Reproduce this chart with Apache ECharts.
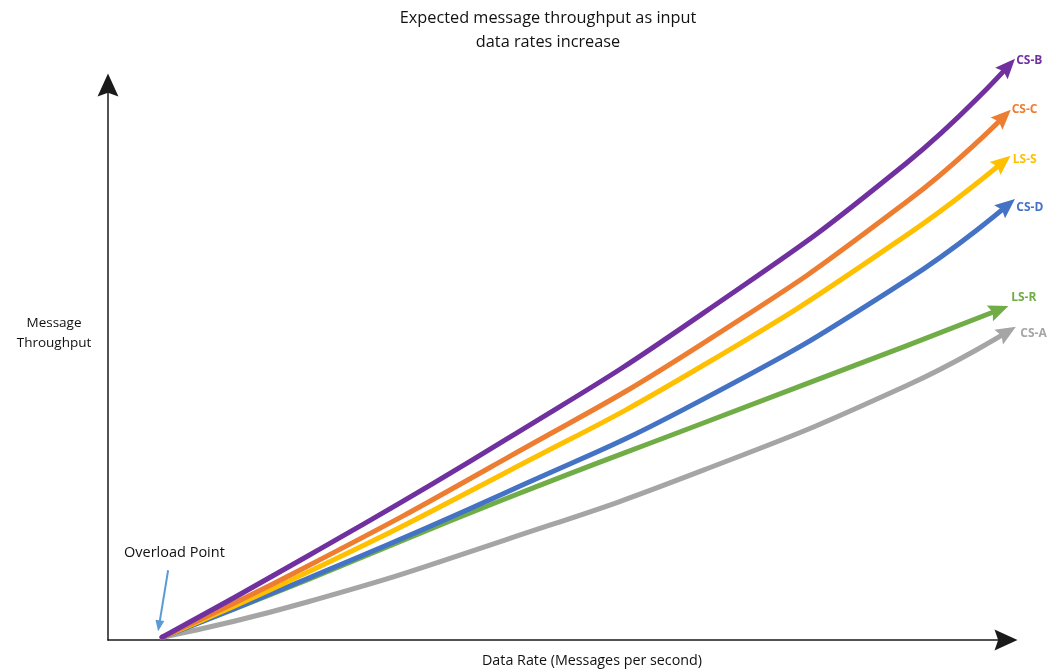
<!DOCTYPE html>
<html>
<head>
<meta charset="utf-8">
<title>Expected message throughput</title>
<script src="https://cdn.jsdelivr.net/npm/echarts@6/dist/echarts.min.js"></script>
<style>
  html, body { margin: 0; padding: 0; background: #fff; }
  #chart { width: 1051px; height: 671px; }
</style>
</head>
<body>
<div id="chart"></div>
<script>
// Data rate (x) vs. message throughput (y), both in relative units 0..100.
// Every curve begins at the overload point.
const overloadPoint = [6, 0.5];
const csA = [overloadPoint, [22, 6.8], [44, 18.0], [66, 30.6], [88.5, 45.8], [99.7, 55.5]];
const lsR = [overloadPoint, [22, 10.8], [44, 25.4], [66, 39.1], [88.5, 53.0], [98.8, 59.5]];
const csD = [overloadPoint, [22, 11.0], [44, 26.5], [66, 43.4], [88.5, 64.8], [99.7, 78.3]];
const lsS = [overloadPoint, [22, 12.1], [44, 30.1], [66, 49.5], [88.5, 72.9], [99.2, 86.1]];
const csC = [overloadPoint, [22, 13.2], [44, 32.6], [66, 53.5], [88.5, 78.9], [99.3, 94.3]];
const csB = [overloadPoint, [22, 15.0], [44, 36.0], [66, 58.9], [88.5, 85.9], [99.8, 103.4]];

const seriesNames = ['CS-A', 'LS-R', 'CS-D', 'LS-S', 'CS-C', 'CS-B'];
const seriesPoints = [csA, lsR, csD, lsS, csC, csB];

const titleText = 'Expected message throughput as input\ndata rates increase';
const xAxisName = 'Data Rate (Messages per second)';
const yAxisName = 'Message\nThroughput';
const annotationText = 'Overload Point';

// Styling
const colors = ['#A5A5A5', '#70AD47', '#4472C4', '#FFC000', '#ED7D31', '#7030A0'];
const labelGap = [13, 12, 9, 10, 8, 8];       // px right of the curve end
const labelShift = [2, -12, 2, -3, -7, -6];   // px below (+) / above (-) the curve end
const ARROW = 'path://M10,0 L20,22 L10,18.5 L0,22 Z';
const FONT = '"Open Sans", "Noto Sans", sans-serif';

const chart = echarts.init(document.getElementById('chart'), null, { renderer: 'canvas' });

function axisBase(offset) {
  return {
    type: 'value', min: 0, max: 100,
    axisLine: {
      show: true,
      symbol: ['none', ARROW],
      symbolSize: [24, 23],
      symbolOffset: [0, offset],
      lineStyle: { color: '#1a1a1a', width: 1.5 }
    },
    axisTick: { show: false },
    axisLabel: { show: false },
    splitLine: { show: false }
  };
}

function buildSeries(rotations) {
  return seriesPoints.map((pts, i) => {
    const last = pts.length - 1;
    return {
      type: 'line',
      name: seriesNames[i],
      smooth: 0.5,
      clip: false,
      silent: true,
      animation: false,
      symbol: 'none',
      showSymbol: true,
      lineStyle: { color: colors[i], width: 5, cap: 'round', join: 'round' },
      itemStyle: { color: colors[i] },
      emphasis: { disabled: true },
      data: pts.map((p, k) => k === last
        ? { value: p, symbol: ARROW, symbolSize: [17, 20],
            symbolRotate: rotations ? rotations[i] : 0,
            itemStyle: { color: colors[i] } }
        : { value: p })
    };
  });
}

function buildOption(rotations, graphics) {
  return {
    backgroundColor: '#ffffff',
    animation: false,
    grid: { left: 108, right: 41, top: 85, bottom: 31, containLabel: false },
    xAxis: axisBase(-4),
    yAxis: axisBase(0),
    series: buildSeries(rotations),
    graphic: graphics || []
  };
}

chart.setOption(buildOption(null));

const toPx = p => chart.convertToPixel({ gridIndex: 0 }, p);

// Arrowhead direction: tangent at the end of each curve, estimated from its last two chords.
const rotations = seriesPoints.map(pts => {
  const n = pts.length;
  const a = toPx(pts[n - 3]), b = toPx(pts[n - 2]), c = toPx(pts[n - 1]);
  const t0 = Math.atan2(a[1] - b[1], b[0] - a[0]);
  const t1 = Math.atan2(b[1] - c[1], c[0] - b[0]);
  const tEnd = t1 + (t1 - t0) / 2;
  return tEnd * 180 / Math.PI - 90;
});

// Series names placed next to each curve's end
const endLabels = seriesPoints.map((pts, i) => {
  const end = toPx(pts[pts.length - 1]);
  return {
    type: 'text', silent: true, z: 10,
    x: end[0] + labelGap[i], y: end[1] + labelShift[i],
    style: { text: seriesNames[i], font: 'bold 12px ' + FONT, fill: colors[i],
             align: 'left', verticalAlign: 'middle' }
  };
});

// Annotation arrow aimed at the overload point
const op = toPx(overloadPoint);
const tip = [op[0] - 4, op[1] - 6];
const tail = [tip[0] + 10, tip[1] - 61];
const len = Math.hypot(tip[0] - tail[0], tip[1] - tail[1]);
const d = [(tip[0] - tail[0]) / len, (tip[1] - tail[1]) / len];
const nrm = [-d[1], d[0]];
const headLen = 11, headHalf = 4.5;
const base = [tip[0] - d[0] * headLen, tip[1] - d[1] * headLen];

const graphics = endLabels.concat([
  {
    type: 'text', x: 548, y: 30, silent: true,
    style: { text: titleText, font: '16.3px ' + FONT, fill: '#111', align: 'center',
             verticalAlign: 'middle', lineHeight: 24 }
  },
  {
    type: 'text', x: 54, y: 333, silent: true,
    style: { text: yAxisName, font: '13.5px ' + FONT, fill: '#111', align: 'center',
             verticalAlign: 'middle', lineHeight: 20 }
  },
  {
    type: 'text', x: 592, y: 661, silent: true,
    style: { text: xAxisName, font: '14.3px ' + FONT, fill: '#111', align: 'center',
             verticalAlign: 'middle' }
  },
  {
    type: 'text', x: 124, y: 553, silent: true,
    style: { text: annotationText, font: '14.5px ' + FONT, fill: '#111', align: 'left',
             verticalAlign: 'middle' }
  },
  {
    type: 'line', silent: true,
    shape: { x1: tail[0], y1: tail[1], x2: base[0] + d[0] * 2, y2: base[1] + d[1] * 2 },
    style: { stroke: '#5B9BD5', lineWidth: 2 }
  },
  {
    type: 'polygon', silent: true,
    shape: { points: [tip,
      [base[0] + nrm[0] * headHalf, base[1] + nrm[1] * headHalf],
      [base[0] - nrm[0] * headHalf, base[1] - nrm[1] * headHalf]] },
    style: { fill: '#5B9BD5' }
  }
]);

chart.setOption(buildOption(rotations, graphics), { notMerge: true });
</script>
</body>
</html>
